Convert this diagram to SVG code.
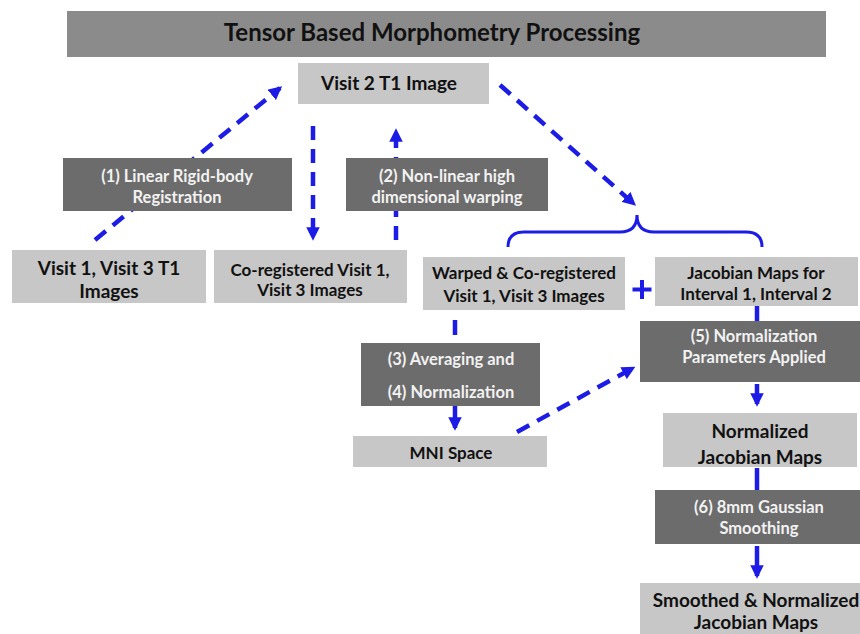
<svg xmlns="http://www.w3.org/2000/svg" width="860" height="634" viewBox="0 0 860 634">
<style>
.title{fill:#8b8b8b}
.light{fill:#c7c7c7}
.dark{fill:#6c6c6c}
text{font-family:Lato,"Liberation Sans",sans-serif;font-weight:bold;text-anchor:middle}
.tt{font-size:24px;fill:#111}
.lt{font-size:17px;fill:#111}
.bt{font-size:19px;fill:#111}
.wt{font-size:16.5px;fill:#f2f2f2}
.c{stroke:#1c1ce6;stroke-width:4.5;fill:none}
.d{stroke-dasharray:14 9}
</style>
<defs>
<marker id="ah" viewBox="0 0 10 10" refX="8" refY="5" markerWidth="3" markerHeight="3" orient="auto" markerUnits="strokeWidth">
<path d="M0,0 L10,5 L0,10 z" fill="#1c1ce6"/>
</marker>
</defs>
<g id="connectors">
<path class="c d" d="M95,240 L280,88" marker-end="url(#ah)"/>
<path class="c d" d="M313,126 L313,238" marker-end="url(#ah)"/>
<path class="c d" d="M396,240 L396,131" marker-end="url(#ah)"/>
<path class="c d" d="M500,85 L634,204" marker-end="url(#ah)"/>
<path class="c" style="stroke-width:3" d="M508,247 Q508,232 524,232 L620,232 Q637,232 637,215 Q637,232 654,232 L746,232 Q762,232 762,247"/>
<path class="c" d="M455,320 L455,335"/>
<path class="c" d="M455,406 L455,428" marker-end="url(#ah)"/>
<path class="c d" d="M517,432 L633,368" marker-end="url(#ah)"/>
<path class="c" d="M757,306 L757,322"/>
<path class="c" d="M757,384 L757,404" marker-end="url(#ah)"/>
<path class="c" d="M757,468 L757,490"/>
<path class="c" d="M757,546 L757,576" marker-end="url(#ah)"/>
<path class="c" d="M642,280 L642,299 M632.5,289.5 L651.5,289.5" style="stroke-width:4"/>
</g>
<g id="title"><rect class="title" x="67" y="11" width="759" height="46"/><text class="tt" x="432" y="41">Tensor Based Morphometry Processing</text></g>
<g id="visit2"><rect class="light" x="298" y="63" width="191" height="41"/><text class="bt" x="389" y="90">Visit 2 T1 Image</text></g>
<g id="step1"><rect class="dark" x="63" y="158" width="229" height="53"/><text class="wt" x="177" y="182">(1) Linear Rigid-body</text><text class="wt" x="177" y="203">Registration</text></g>
<g id="step2"><rect class="dark" x="346" y="158" width="202" height="53"/><text class="wt" x="447" y="182">(2) Non-linear high</text><text class="wt" x="447" y="203">dimensional warping</text></g>
<g id="visit13"><rect class="light" x="12" y="250" width="194" height="53"/><text class="bt" x="109" y="275">Visit 1, Visit 3 T1</text><text class="bt" x="109" y="298">Images</text></g>
<g id="coreg"><rect class="light" x="214" y="250" width="193" height="53"/><text class="lt" x="310" y="276">Co-registered Visit 1,</text><text class="lt" x="310" y="296">Visit 3 Images</text></g>
<g id="warped"><rect class="light" x="423" y="257" width="202" height="53"/><text class="lt" x="524" y="279">Warped &amp; Co-registered</text><text class="lt" x="524" y="302">Visit 1, Visit 3 Images</text></g>
<g id="jacobian"><rect class="light" x="655" y="257" width="203" height="49"/><text class="lt" x="756" y="279">Jacobian Maps for</text><text class="lt" x="756" y="300">Interval 1, Interval 2</text></g>
<g id="step34"><rect class="dark" x="361" y="343" width="179" height="63"/><text class="wt" x="451" y="365">(3) Averaging and</text><text class="wt" x="451" y="398">(4) Normalization</text></g>
<g id="mni"><rect class="light" x="353" y="436" width="194" height="31"/><text class="lt" x="451" y="459">MNI Space</text></g>
<g id="step5"><rect class="dark" x="640" y="321" width="220" height="61"/><text class="wt" x="754" y="342">(5) Normalization</text><text class="wt" x="754" y="363">Parameters Applied</text></g>
<g id="normjac"><rect class="light" x="663" y="413" width="194" height="54"/><text class="bt" x="760" y="438">Normalized</text><text class="bt" x="760" y="464">Jacobian Maps</text></g>
<g id="step6"><rect class="dark" x="655" y="490" width="205" height="54"/><text class="wt" x="759" y="513">(6) 8mm Gaussian</text><text class="wt" x="759" y="534">Smoothing</text></g>
<g id="smoothed"><rect class="light" x="640" y="583" width="225" height="55"/><text class="bt" x="756" y="607">Smoothed &amp; Normalized</text><text class="bt" x="756" y="629">Jacobian Maps</text></g>
</svg>
